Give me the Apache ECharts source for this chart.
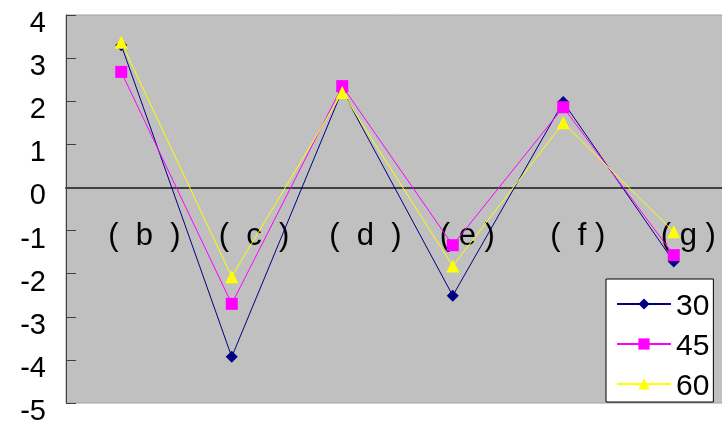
<!DOCTYPE html>
<html>
<head>
<meta charset="utf-8">
<script src="https://cdn.jsdelivr.net/npm/echarts@6/dist/echarts.min.js"></script>
<style>
  html, body { margin: 0; padding: 0; background: #fff; }
  #chart { width: 722px; height: 425px; }
</style>
</head>
<body>
<div id="chart"></div>
<script>
const categories = ['(  b  )', '(  c  )', '(  d  )', '( e )', '(  f )', '( g )']
const s30 = [3.3, -3.93, 2.25, -2.51, 1.98, -1.72]
const s45 = [2.68, -2.7, 2.35, -1.34, 1.86, -1.57]
const s60 = [3.37, -2.07, 2.2, -1.82, 1.5, -1.03]

const font = 'Liberation Sans, Arial, sans-serif'
const yMin = -5
const yMax = 4
const gridTop = 15
const gridBottom = 22
const plotH = 425 - gridTop - gridBottom
// distance of the zero line above the bottom edge of the plot
const zeroOffset = plotH * (0 - yMin) / (yMax - yMin)

const chart = echarts.init(document.getElementById('chart'))

const mkSeries = (name, data, color, symbol, size) => ({
  name,
  type: 'line',
  data,
  symbol,
  symbolSize: size,
  showAllSymbol: true,
  lineStyle: { width: 1, color },
  itemStyle: { color }
})

chart.setOption({
  animation: false,
  grid: {
    left: 66, top: gridTop, right: -7, bottom: gridBottom,
    outerBoundsMode: 'none',
    containLabel: false,
    show: true,
    backgroundColor: '#c0c0c0',
    borderColor: '#a0a0a0',
    borderWidth: 1
  },
  legend: {
    orient: 'vertical',
    left: 606,
    top: 279,
    padding: [7, 4, 0, 10],
    itemGap: 4,
    itemWidth: 54,
    itemHeight: 14,
    backgroundColor: '#fff',
    borderColor: '#000',
    borderWidth: 1,
    formatter: name => `{t|${name}}`,
    textStyle: {
      rich: {
        t: { fontFamily: font, fontSize: 30, color: '#000', lineHeight: 30, padding: [6, 0, 0, 0] }
      }
    },
    data: ['30', '45', '60']
  },
  xAxis: {
    type: 'category',
    data: categories,
    position: 'bottom',
    offset: -zeroOffset,
    boundaryGap: true,
    axisLine: { onZero: false, lineStyle: { color: '#404040', width: 2 } },
    axisTick: { inside: true, length: 8, interval: 0, lineStyle: { color: '#000' } },
    axisLabel: {
      interval: 0,
      margin: 34,
      formatter: v => `{c|${v}}`,
      rich: {
        c: { fontFamily: font, fontSize: 31, color: '#000', width: 26, align: 'left' }
      }
    },
    splitLine: { show: false }
  },
  yAxis: {
    type: 'value',
    min: yMin,
    max: yMax,
    interval: 1,
    axisLine: { show: true, lineStyle: { color: '#404040', width: 1 } },
    axisTick: { show: true, inside: true, length: 10, lineStyle: { color: '#404040' } },
    axisLabel: {
      margin: 20,
      formatter: v => `{a|${v}}`,
      rich: {
        a: { fontFamily: font, fontSize: 29, color: '#000', padding: [18, 0, 0, 0] }
      }
    },
    splitLine: { show: false }
  },
  series: [
    mkSeries('30', s30, '#000080', 'diamond', 12),
    mkSeries('45', s45, '#ff00ff', 'rect', 12),
    mkSeries('60', s60, '#ffff00', 'triangle', 13)
  ]
})
</script>
</body>
</html>
